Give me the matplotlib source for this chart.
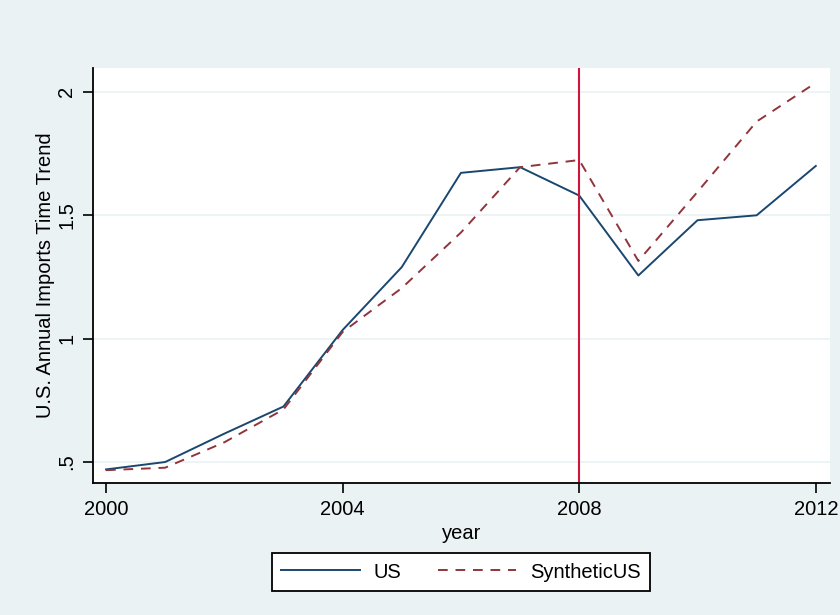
import matplotlib
matplotlib.use("Agg")
import matplotlib.pyplot as plt
from matplotlib.lines import Line2D

plt.rcParams["font.family"] = ["Liberation Sans", "DejaVu Sans"]

# ── Data ─────────────────────────────────────────────────────────────────────
years = [2000, 2001, 2002, 2003, 2004, 2005, 2006, 2007, 2008, 2009, 2010, 2011, 2012]
us = [0.47, 0.50, 0.615, 0.725, 1.035, 1.29, 1.672, 1.695, 1.58, 1.256, 1.48, 1.50, 1.70]
synthetic_us = [0.467, 0.477, 0.58, 0.713, 1.027, 1.205, 1.43, 1.695, 1.724, 1.315, 1.595, 1.88, 2.037]
treatment_year = 2008
x_ticks = [2000, 2004, 2008, 2012]
y_ticks = [0.5, 1.0, 1.5, 2.0]
y_tick_labels = [".5", "1", "1.5", "2"]

BG = "#EAF2F3"
NAVY = "#1A476F"
MAROON = "#90353B"
CRIMSON = "#D2143A"
FS = 14.5

fig = plt.figure(figsize=(8.4, 6.15), dpi=100, facecolor=BG)
ax = fig.add_axes([93 / 840, 1 - 483 / 615, (830 - 93) / 840, (483 - 68) / 615])
ax.set_facecolor("white")

ax.plot(years, us, color=NAVY, lw=1.4, label="US")
ax.plot(years, synthetic_us, color=MAROON, lw=1.4, ls=(0, (5, 4)), label="SyntheticUS")
ax.axvline(treatment_year, color=CRIMSON, lw=1.5)

ax.set_xlim(1999.78, 2012.24)
ax.set_ylim(0.415, 2.097)
ax.set_xticks(x_ticks)
ax.set_yticks(y_ticks)
ax.set_yticklabels(y_tick_labels, rotation=90, va="center")
ax.grid(axis="y", color=BG, lw=1.2)
ax.set_axisbelow(True)

for side in ("top", "right"):
    ax.spines[side].set_visible(False)
for side in ("left", "bottom"):
    ax.spines[side].set_linewidth(1.3)
ax.tick_params(direction="out", length=7, width=1.2, labelsize=FS, colors="black", pad=5)

ax.set_xlabel("year", fontsize=FS, labelpad=4)
ax.set_ylabel("U.S. Annual Imports Time Trend", fontsize=FS, labelpad=2)

handles = [
    Line2D([], [], color=NAVY, lw=1.4),
    Line2D([], [], color=MAROON, lw=1.4, ls=(0, (5, 4))),
]
leg = fig.legend(handles, ["US", "SyntheticUS"], loc="center", ncol=2,
                 bbox_to_anchor=(461 / 840, 1 - 572 / 615), frameon=True,
                 fancybox=False, edgecolor="black", facecolor="white",
                 fontsize=FS, handlelength=3.9, handletextpad=0.7,
                 columnspacing=1.8, borderpad=0.45, framealpha=1)
leg.get_frame().set_linewidth(1.3)

fig.savefig("out.png", dpi=100, facecolor=BG)
